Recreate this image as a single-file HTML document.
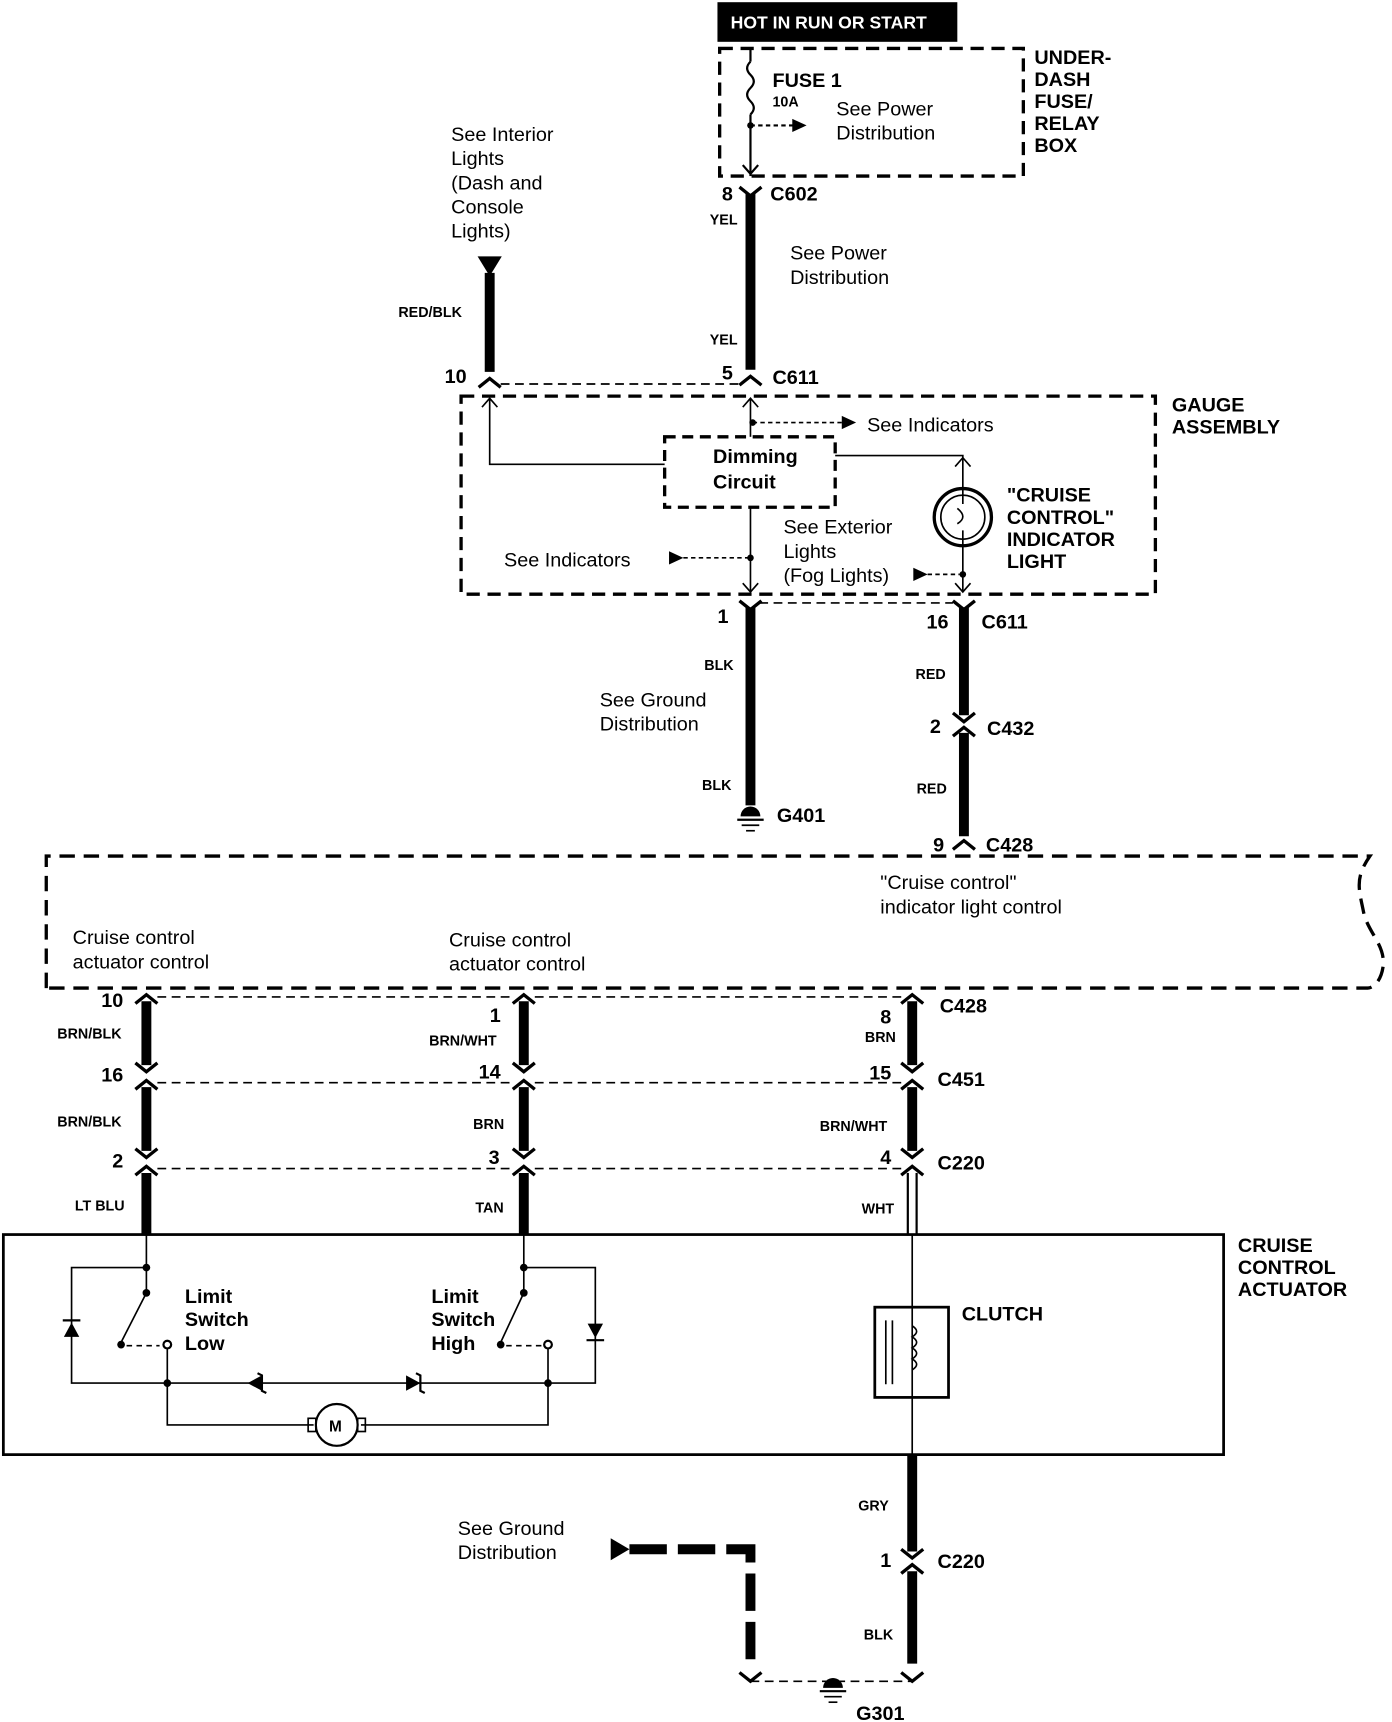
<!DOCTYPE html>
<html><head><style>
html,body{margin:0;padding:0;background:#fff;}
svg{display:block;}
text{font-family:"Liberation Sans",Arial,sans-serif;fill:#000;}
.b{font-weight:bold;}
.s{font-size:13px;font-weight:bold;}
.m{font-size:18px;}
.l{font-size:18px;font-weight:bold;}
</style></head><body>
<svg width="1392" height="1722" viewBox="0 0 1265 1565" xmlns="http://www.w3.org/2000/svg">
<rect width="1265" height="1565" fill="#fff"/>
<!-- header -->
<rect x="652" y="2" width="218" height="36" fill="#000"/>
<text x="664" y="26" class="b" style="font-size:16px;fill:#fff">HOT IN RUN OR START</text>
<!-- fuse box -->
<rect x="654" y="44" width="276" height="116" fill="none" stroke="#000" stroke-width="3" stroke-dasharray="12,7"/>
<line x1="682" y1="44" x2="682" y2="56" stroke="#000" stroke-width="2"/>
<path d="M682 56 q-6 6 0 12 q6 6 0 12 q-6 6 0 12 q6 6 0 12" fill="none" stroke="#000" stroke-width="2"/>
<line x1="682" y1="104" x2="682" y2="160" stroke="#000" stroke-width="2"/>
<circle cx="682" cy="114" r="3"/>
<line x1="682" y1="114" x2="722" y2="114" stroke="#000" stroke-width="2" stroke-dasharray="4,3"/>
<polygon points="720,108 733,114 720,120"/>
<path d="M675 150 l7 8 l7 -8" fill="none" stroke="#000" stroke-width="2"/>
<text x="702" y="79" class="l">FUSE 1</text>
<text x="702" y="97" class="s">10A</text>
<text x="760" y="105" class="m">See Power</text>
<text x="760" y="127" class="m">Distribution</text>
<text x="940" y="58" class="l">UNDER-</text>
<text x="940" y="78" class="l">DASH</text>
<text x="940" y="98" class="l">FUSE/</text>
<text x="940" y="118" class="l">RELAY</text>
<text x="940" y="138" class="l">BOX</text>
<!-- main power wire -->
<path d="M672 170 l10 8 l10 -8" fill="none" stroke="#000" stroke-width="3"/>
<line x1="682" y1="176" x2="682" y2="336" stroke="#000" stroke-width="9"/>
<text x="656" y="182" class="l">8</text><text x="700" y="182" class="l">C602</text>
<text x="645" y="204" class="s">YEL</text>
<text x="718" y="236" class="m">See  Power</text>
<text x="718" y="258" class="m">Distribution</text>
<text x="645" y="313" class="s">YEL</text>
<text x="656" y="345" class="l">5</text><text x="702" y="349" class="l">C611</text>
<path d="M672 350 l10 -8 l10 8" fill="none" stroke="#000" stroke-width="3"/>
<!-- interior lights wire -->
<polygon points="434,233 456,233 445,251"/>
<line x1="445" y1="248" x2="445" y2="338" stroke="#000" stroke-width="9"/>
<text x="410" y="128" class="m">See Interior</text>
<text x="410" y="150" class="m">Lights</text>
<text x="410" y="172" class="m">(Dash and</text>
<text x="410" y="194" class="m">Console</text>
<text x="410" y="216" class="m">Lights)</text>
<text x="362" y="288" class="s">RED/BLK</text>
<text x="404" y="348" class="l">10</text>
<path d="M435 352 l10 -8 l10 8" fill="none" stroke="#000" stroke-width="3"/>
<line x1="455" y1="349" x2="672" y2="349" stroke="#000" stroke-width="1.5" stroke-dasharray="8,5"/>
<!-- gauge box -->
<rect x="419" y="360" width="631" height="180" fill="none" stroke="#000" stroke-width="3" stroke-dasharray="12,7"/>
<text x="1065" y="374" class="l">GAUGE</text>
<text x="1065" y="394" class="l">ASSEMBLY</text>
<path d="M438 370 l7 -8 l7 8" fill="none" stroke="#000" stroke-width="1.5"/>
<polyline points="445,362 445,422 604,422" fill="none" stroke="#000" stroke-width="1.5"/>
<path d="M675 370 l7 -8 l7 8" fill="none" stroke="#000" stroke-width="1.5"/>
<line x1="682" y1="362" x2="682" y2="397" stroke="#000" stroke-width="1.5"/>
<circle cx="684" cy="384" r="3"/>
<line x1="684" y1="384" x2="765" y2="384" stroke="#000" stroke-width="1.5" stroke-dasharray="4,3"/>
<polygon points="765,378 778,384 765,390"/>
<text x="788" y="392" class="m">See Indicators</text>
<rect x="604" y="397" width="155" height="64" fill="none" stroke="#000" stroke-width="3" stroke-dasharray="10,6"/>
<text x="648" y="421" class="l">Dimming</text>
<text x="648" y="444" class="l">Circuit</text>
<polyline points="759,414 875,414 875,444" fill="none" stroke="#000" stroke-width="1.5"/>
<path d="M868 424 l7 -8 l7 8" fill="none" stroke="#000" stroke-width="1.5"/>
<circle cx="875" cy="470" r="26" fill="none" stroke="#000" stroke-width="3"/>
<circle cx="875" cy="470" r="20" fill="none" stroke="#000" stroke-width="1.5"/>
<path d="M875 444 v14 m0 24 v14 M870 462 q10 8 0 14" fill="none" stroke="#000" stroke-width="1.5"/>
<text x="915" y="456" class="l">"CRUISE</text>
<text x="915" y="476" class="l">CONTROL"</text>
<text x="915" y="496" class="l">INDICATOR</text>
<text x="915" y="516" class="l">LIGHT</text>
<line x1="875" y1="496" x2="875" y2="538" stroke="#000" stroke-width="1.5"/>
<circle cx="875" cy="522" r="3"/>
<polygon points="830,516 843,522 830,528"/>
<line x1="843" y1="522" x2="872" y2="522" stroke="#000" stroke-width="1.5" stroke-dasharray="4,3"/>
<text x="712" y="485" class="m">See Exterior</text>
<text x="712" y="507" class="m">Lights</text>
<text x="712" y="529" class="m">(Fog Lights)</text>
<path d="M868 530 l7 8 l7 -8" fill="none" stroke="#000" stroke-width="1.5"/>
<line x1="682" y1="461" x2="682" y2="538" stroke="#000" stroke-width="1.5"/>
<circle cx="682" cy="507" r="3"/>
<polygon points="608,501 621,507 608,513"/>
<line x1="621" y1="507" x2="680" y2="507" stroke="#000" stroke-width="1.5" stroke-dasharray="4,3"/>
<text x="458" y="515" class="m">See Indicators</text>
<path d="M675 530 l7 8 l7 -8" fill="none" stroke="#000" stroke-width="1.5"/>
<line x1="690" y1="548" x2="866" y2="548" stroke="#000" stroke-width="1.5" stroke-dasharray="8,5"/>
<!-- ground wire G401 -->
<path d="M672 546 l10 8 l10 -8" fill="none" stroke="#000" stroke-width="3"/>
<line x1="682" y1="552" x2="682" y2="732" stroke="#000" stroke-width="9"/>
<text x="652" y="566" class="l">1</text>
<text x="640" y="609" class="s">BLK</text>
<text x="545" y="642" class="m">See Ground</text>
<text x="545" y="664" class="m">Distribution</text>
<text x="638" y="718" class="s">BLK</text>
<path d="M673 742 a9 9 0 0 1 18 0 z"/>
<line x1="670" y1="745" x2="694" y2="745" stroke="#000" stroke-width="2"/>
<line x1="674" y1="750" x2="690" y2="750" stroke="#000" stroke-width="1.5"/>
<line x1="678" y1="755" x2="686" y2="755" stroke="#000" stroke-width="1.5"/>
<text x="706" y="747" class="l">G401</text>
<!-- indicator wire -->
<path d="M866 546 l10 8 l10 -8" fill="none" stroke="#000" stroke-width="3"/>
<line x1="876" y1="552" x2="876" y2="650" stroke="#000" stroke-width="9"/>
<line x1="876" y1="666" x2="876" y2="760" stroke="#000" stroke-width="9"/>
<path d="M866 648 l10 8 l10 -8 M866 669 l10 -8 l10 8" fill="none" stroke="#000" stroke-width="3"/>
<text x="842" y="571" class="l">16</text><text x="892" y="571" class="l">C611</text>
<text x="832" y="617" class="s">RED</text>
<text x="845" y="666" class="l">2</text><text x="897" y="668" class="l">C432</text>
<text x="833" y="721" class="s">RED</text>
<text x="848" y="774" class="l">9</text><text x="896" y="774" class="l">C428</text>
<path d="M866 772 l10 -8 l10 8" fill="none" stroke="#000" stroke-width="3"/>
<!-- big control box -->
<path d="M42 898 V778 H1245 c-14 20 -10 30 -6 50 c4 20 20 30 18 50 c-2 15 -10 20 -14 20 H42" fill="none" stroke="#000" stroke-width="3" stroke-dasharray="14,8"/>
<text x="800" y="808" class="m">"Cruise control"</text>
<text x="800" y="830" class="m">indicator light control</text>
<text x="66" y="858" class="m">Cruise control</text>
<text x="66" y="880" class="m">actuator control</text>
<text x="408" y="860" class="m">Cruise control</text>
<text x="408" y="882" class="m">actuator control</text>
<!-- three wires -->
<g stroke="#000" fill="none">
<line x1="133" y1="910" x2="133" y2="968" stroke-width="9"/>
<line x1="133" y1="988" x2="133" y2="1046" stroke-width="9"/>
<line x1="133" y1="1066" x2="133" y2="1122" stroke-width="9"/>
<line x1="476" y1="910" x2="476" y2="968" stroke-width="9"/>
<line x1="476" y1="988" x2="476" y2="1046" stroke-width="9"/>
<line x1="476" y1="1066" x2="476" y2="1122" stroke-width="9"/>
<line x1="829" y1="910" x2="829" y2="968" stroke-width="9"/>
<line x1="829" y1="988" x2="829" y2="1046" stroke-width="9"/>
<line x1="825" y1="1066" x2="825" y2="1122" stroke-width="2"/>
<line x1="833" y1="1066" x2="833" y2="1122" stroke-width="2"/>
<g stroke-width="3">
<path d="M123 912 l10 -8 l10 8 M123 966 l10 8 l10 -8 M123 990 l10 -8 l10 8 M123 1044 l10 8 l10 -8 M123 1068 l10 -8 l10 8"/>
<path d="M466 912 l10 -8 l10 8 M466 966 l10 8 l10 -8 M466 990 l10 -8 l10 8 M466 1044 l10 8 l10 -8 M466 1068 l10 -8 l10 8"/>
<path d="M819 912 l10 -8 l10 8 M819 966 l10 8 l10 -8 M819 990 l10 -8 l10 8 M819 1044 l10 8 l10 -8 M819 1068 l10 -8 l10 8"/>
</g>
<g stroke-width="1.5" stroke-dasharray="8,5">
<line x1="143" y1="906" x2="466" y2="906"/><line x1="486" y1="906" x2="819" y2="906"/>
<line x1="143" y1="984" x2="466" y2="984"/><line x1="486" y1="984" x2="819" y2="984"/>
<line x1="143" y1="1062" x2="466" y2="1062"/><line x1="486" y1="1062" x2="819" y2="1062"/>
</g>
</g>
<text x="92" y="915" class="l">10</text>
<text x="52" y="944" class="s">BRN/BLK</text>
<text x="92" y="983" class="l">16</text>
<text x="52" y="1024" class="s">BRN/BLK</text>
<text x="102" y="1061" class="l">2</text>
<text x="68" y="1100" class="s">LT BLU</text>
<text x="445" y="929" class="l">1</text>
<text x="390" y="950" class="s">BRN/WHT</text>
<text x="435" y="980" class="l">14</text>
<text x="430" y="1026" class="s">BRN</text>
<text x="444" y="1058" class="l">3</text>
<text x="432" y="1102" class="s">TAN</text>
<text x="800" y="930" class="l">8</text>
<text x="786" y="947" class="s">BRN</text>
<text x="854" y="920" class="l">C428</text>
<text x="790" y="981" class="l">15</text>
<text x="852" y="987" class="l">C451</text>
<text x="745" y="1028" class="s">BRN/WHT</text>
<text x="800" y="1058" class="l">4</text>
<text x="852" y="1063" class="l">C220</text>
<text x="783" y="1103" class="s">WHT</text>
<!-- actuator -->
<rect x="3" y="1122" width="1109" height="200" fill="none" stroke="#000" stroke-width="2.5"/>
<text x="1125" y="1138" class="l">CRUISE</text>
<text x="1125" y="1158" class="l">CONTROL</text>
<text x="1125" y="1178" class="l">ACTUATOR</text>
<g stroke="#000" stroke-width="1.5" fill="none">
<polyline points="133,1122 133,1175"/>
<polyline points="133,1152 65,1152 65,1257 152,1257"/>
<line x1="133" y1="1175" x2="110" y2="1220"/>
<line x1="115" y1="1223" x2="145" y2="1223" stroke-dasharray="5,4"/>
<polyline points="152,1222 152,1295 285,1295"/>
<line x1="152" y1="1257" x2="498" y2="1257"/>
<polyline points="476,1122 476,1175"/>
<polyline points="476,1152 541,1152 541,1257 498,1257"/>
<line x1="476" y1="1175" x2="455" y2="1220"/>
<line x1="460" y1="1223" x2="495" y2="1223" stroke-dasharray="5,4"/>
<polyline points="498,1222 498,1295 328,1295"/>
<circle cx="306" cy="1295" r="19" stroke-width="2"/>
<rect x="280" y="1289" width="7" height="12"/>
<rect x="325" y="1289" width="7" height="12"/>
<line x1="829" y1="1122" x2="829" y2="1322"/>
<rect x="795" y="1188" width="67" height="82" stroke-width="2.5"/>
<line x1="805" y1="1200" x2="805" y2="1258"/>
<line x1="811" y1="1200" x2="811" y2="1258"/>
<path d="M829 1205 q8 5 0 10 q8 5 0 10 q8 5 0 10 q8 5 0 10"/>
</g>
<circle cx="133" cy="1152" r="3.5"/><circle cx="133" cy="1175" r="3.5"/>
<circle cx="110" cy="1222" r="3.5"/><circle cx="152" cy="1222" r="3.5" fill="#fff" stroke="#000" stroke-width="2"/>
<circle cx="152" cy="1257" r="3.5"/>
<circle cx="476" cy="1152" r="3.5"/><circle cx="476" cy="1175" r="3.5"/>
<circle cx="455" cy="1222" r="3.5"/><circle cx="498" cy="1222" r="3.5" fill="#fff" stroke="#000" stroke-width="2"/>
<circle cx="498" cy="1257" r="3.5"/>
<polygon points="58,1215 72,1215 65,1202"/><line x1="57" y1="1200" x2="73" y2="1200" stroke="#000" stroke-width="2"/>
<polygon points="534,1203 548,1203 541,1216"/><line x1="533" y1="1218" x2="549" y2="1218" stroke="#000" stroke-width="2"/>
<polygon points="225,1257 238,1250 238,1264"/><path d="M234 1248 l4 2 l0 14 l4 2" fill="none" stroke="#000" stroke-width="2"/>
<polygon points="382,1257 369,1250 369,1264"/><path d="M378 1248 l4 2 l0 14 l4 2" fill="none" stroke="#000" stroke-width="2"/>
<text x="299" y="1301" class="s" style="font-size:14px">M</text>
<text x="168" y="1184" class="l">Limit</text>
<text x="168" y="1205" class="l">Switch</text>
<text x="168" y="1227" class="l">Low</text>
<text x="392" y="1184" class="l">Limit</text>
<text x="392" y="1205" class="l">Switch</text>
<text x="392" y="1227" class="l">High</text>
<text x="874" y="1200" class="l">CLUTCH</text>
<!-- bottom ground -->
<line x1="829" y1="1322" x2="829" y2="1410" stroke="#000" stroke-width="9"/>
<line x1="829" y1="1428" x2="829" y2="1512" stroke="#000" stroke-width="9"/>
<path d="M819 1408 l10 8 l10 -8 M819 1430 l10 -8 l10 8" fill="none" stroke="#000" stroke-width="3"/>
<text x="780" y="1373" class="s">GRY</text>
<text x="800" y="1424" class="l">1</text><text x="852" y="1425" class="l">C220</text>
<text x="785" y="1490" class="s">BLK</text>
<polygon points="555,1398 572,1408 555,1418"/>
<path d="M572 1408 H682 V1512" fill="none" stroke="#000" stroke-width="9" stroke-dasharray="34,10"/>
<text x="416" y="1395" class="m">See Ground</text>
<text x="416" y="1417" class="m">Distribution</text>
<path d="M672 1520 l10 8 l10 -8 M819 1520 l10 8 l10 -8" fill="none" stroke="#000" stroke-width="3"/>
<line x1="682" y1="1528" x2="829" y2="1528" stroke="#000" stroke-width="1.5" stroke-dasharray="8,5"/>
<path d="M748 1534 a9 9 0 0 1 18 0 z"/>
<line x1="745" y1="1537" x2="769" y2="1537" stroke="#000" stroke-width="2"/>
<line x1="749" y1="1542" x2="765" y2="1542" stroke="#000" stroke-width="1.5"/>
<line x1="753" y1="1547" x2="761" y2="1547" stroke="#000" stroke-width="1.5"/>
<text x="778" y="1563" class="l">G301</text>
</svg>
</body></html>
